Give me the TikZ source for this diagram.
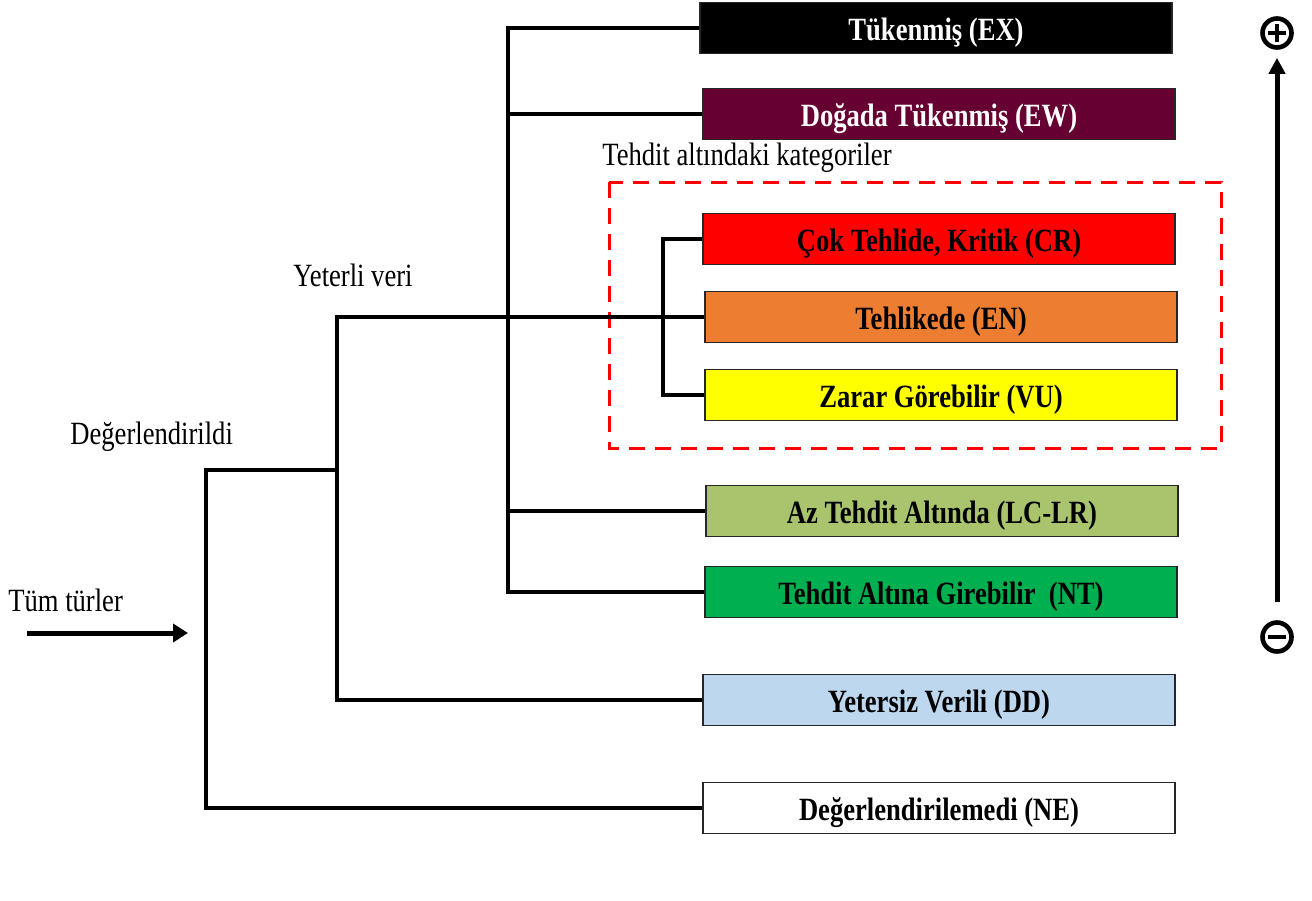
\documentclass[tikz,border=0pt]{standalone}
\usepackage{fontspec}
\setmainfont{Liberation Serif}
\usepackage{graphicx}
\usepackage{tikz}
\usetikzlibrary{arrows.meta,positioning,calc}
\definecolor{catEW}{HTML}{660033}
\definecolor{catCR}{HTML}{FF0000}
\definecolor{catEN}{HTML}{ED7D31}
\definecolor{catVU}{HTML}{FFFF00}
\definecolor{catLC}{HTML}{A9C46C}
\definecolor{catNT}{HTML}{00B050}
\definecolor{catDD}{HTML}{BDD7EE}
\newcommand{\tallt}[1]{\scalebox{1}[1.22]{#1}}
\newcommand{\boxt}[1]{\raisebox{-2.5pt}[\height][\depth]{\tallt{#1}}}

\begin{document}
\begin{tikzpicture}[
    x=0.5pt, y=-0.5pt,
    catbox/.style={draw=black!85, line width=0.6pt, minimum width=236pt,
      minimum height=25.5pt, inner sep=0pt,
      font=\fontsize{13.3}{16}\selectfont\bfseries},
    lbl/.style={font=\fontsize{13.3}{16}\selectfont, inner sep=0pt},
    branch/.style={line width=2.2pt},
    threat/.style={draw=red, line width=1.5pt, dash pattern=on 8pt off 5pt},
    sign/.style={circle, draw, line width=2.3pt, minimum size=14.5pt, inner sep=0pt}
  ]
  \useasboundingbox (0,0) rectangle (1312,900);

  % category boxes
  \foreach \n/\x/\y/\c/\tc/\t in {
      ex/936/28/black/white/{Tükenmiş (EX)},
      ew/939/114/catEW/white/{Doğada Tükenmiş (EW)},
      cr/939/239/catCR/black/{Çok Tehlide, Kritik (CR)},
      en/941/317/catEN/black/{Tehlikede (EN)},
      vu/941/395/catVU/black/{Zarar Görebilir (VU)},
      lc/942/511/catLC/black/{Az Tehdit Altında (LC-LR)},
      nt/941/592/catNT/black/{Tehdit Altına Girebilir\ \ (NT)},
      dd/939/700/catDD/black/{Yetersiz Verili (DD)},
      ne/939/808/white/black/{Değerlendirilemedi (NE)}} {
    \node[catbox, fill=\c, text=\tc] (\n) at (\x,\y) {\boxt{\t}};
  }

  % labels
  \node[lbl, anchor=west] (tak) at (602,158) {\tallt{Tehdit altındaki kategoriler}};
  \node[lbl, anchor=west] (yvl) at (293,275) {\tallt{Yeterli veri}};
  \node[lbl, anchor=west] (dgl) at (70,437) {\tallt{Değerlendirildi}};
  \node[lbl, anchor=west] (tum) at (8,600) {\tallt{Tüm türler}};

  % threatened group
  \draw[threat] (609,182) rectangle (1221,448);

  % tree
  \coordinate (tk) at (508,0);
  \coordinate (tb) at (663,0);
  \coordinate (yv) at (337,0);
  \coordinate (dg) at (206,470);
  \draw[branch] (ex.west) -| (tk |- nt.west) -- (nt.west);
  \draw[branch] (ew.west) -- (ew.west -| tk);
  \draw[branch] (lc.west) -- (lc.west -| tk);
  \draw[branch] (cr.west) -| (tb |- vu.west) -- (vu.west);
  \draw[branch] (en.west) -| (yv |- dd.west) -- (dd.west);
  \draw[branch] (dg -| yv) -- (dg) |- (ne.west);

  % input arrow
  \coordinate (a0) at (27,633);
  \coordinate (a1) at (188,633);
  \draw[line width=2.5pt, -{Triangle[length=7.5pt,width=9pt]}] (a0) -- (a1);

  % scale
  \node[sign] (pl) at (1277,33) {};
  \node[sign] (mi) at (1277,637) {};
  \draw[line width=2.4pt] ([xshift=-4.6pt]pl.center) -- ([xshift=4.6pt]pl.center);
  \draw[line width=2.4pt] ([yshift=-4.6pt]pl.center) -- ([yshift=4.6pt]pl.center);
  \draw[line width=2.4pt] ([xshift=-4.6pt]mi.center) -- ([xshift=4.6pt]mi.center);
  \draw[line width=2.5pt, -{Triangle[length=8pt,width=8pt]}]
    ([yshift=9pt]mi.north) -- ([yshift=-4pt]pl.south);
\end{tikzpicture}
\end{document}
